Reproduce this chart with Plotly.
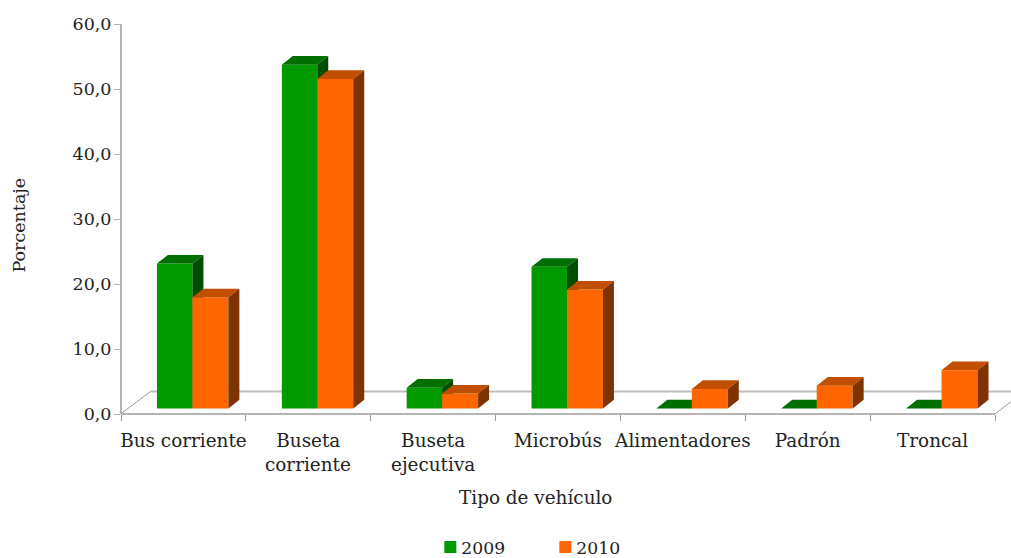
import plotly.graph_objects as go

categories = ["Bus corriente", "Buseta", "Buseta", "Microbús", "Alimentadores", "Padrón", "Troncal"]
second_lines = {1: "corriente", 2: "ejecutiva"}
values_2009 = [22.3, 52.9, 3.2, 21.8, 0.0, 0.0, 0.0]
values_2010 = [17.1, 50.7, 2.3, 18.3, 3.0, 3.5, 5.9]
y_ticks = [0, 10, 20, 30, 40, 50, 60]

FONT = "DejaVu Serif"
FS = 18.4
FS_Y = 17.5
FS_LEG = 17.2
TXT = "#222222"
BASE = 0.85
DX = 0.088
DY = 1.33
xs = list(range(len(categories)))

series = [
    dict(name="2009", vals=values_2009, left=-0.212, right=0.072, front="#009900", top="#006f00", side="#004d00", z=0),
    dict(name="2010", vals=values_2010, left=0.072, right=0.36, front="#ff6600", top="#c24e00", side="#7f3300", z=1),
]

fig = go.Figure()
for s in series:
    width = s["right"] - s["left"]
    fig.add_trace(go.Bar(x=xs, y=s["vals"], base=BASE, width=width, offset=s["left"], name=s["name"],
                         marker=dict(color=s["front"], line=dict(width=0)), zorder=s["z"],
                         hoverinfo="y"))
    tx, ty, sx, sy = [], [], [], []
    for c, v in zip(xs, s["vals"]):
        l, r, b, t = c + s["left"], c + s["right"], BASE, BASE + v
        tx += [l, l + DX, r + DX, r, l, None]
        ty += [t, t + DY, t + DY, t, t, None]
        if v > 0:
            sx += [r, r + DX, r + DX, r, r, None]
            sy += [b, b + DY, t + DY, t, b, None]
    fig.add_trace(go.Scatter(x=tx, y=ty, mode="none", fill="toself", fillcolor=s["top"], showlegend=False,
                             hoverinfo="skip", zorder=s["z"], cliponaxis=False))
    fig.add_trace(go.Scatter(x=sx, y=sy, mode="none", fill="toself", fillcolor=s["side"], showlegend=False,
                             hoverinfo="skip", zorder=s["z"], cliponaxis=False))

L, R, T, B = 120.5, 995.0, 23.5, 414.5
W, H = 1011, 558
def px(x): return (x - L) / (R - L)
def py(y): return (B - y) / (B - T)

floor = "#999999"
wall = "#bdbdbd"
axis_col = "#b3b3b3"
shapes = [
    dict(type="line", xref="paper", yref="paper", x0=px(120), y0=py(414.5), x1=px(150), y1=py(392), line=dict(color=floor, width=1), layer="below"),
    dict(type="line", xref="paper", yref="paper", x0=px(150), y0=py(392), x1=px(1011), y1=py(392), line=dict(color=wall, width=2), layer="below"),
    dict(type="line", xref="paper", yref="paper", x0=px(995), y0=py(414.5), x1=px(1011), y1=py(402), line=dict(color=floor, width=1), layer="below"),
    dict(type="line", xref="paper", yref="paper", x0=0, y0=0, x1=0, y1=1, line=dict(color=axis_col, width=2), layer="above"),
    dict(type="line", xref="paper", yref="paper", x0=0, y0=0, x1=1, y1=0, line=dict(color=axis_col, width=2), layer="above"),
]

annotations = [
    dict(text="Porcentaje", xref="paper", yref="paper", x=px(18), y=py(225), showarrow=False, textangle=-90,
         font=dict(family=FONT, size=FS_Y, color=TXT), xanchor="center", yanchor="middle"),
    dict(text="Tipo de vehículo", xref="paper", yref="paper", x=px(535), y=py(498), showarrow=False,
         font=dict(family=FONT, size=FS, color=TXT), xanchor="center", yanchor="middle"),
]
for i, t in second_lines.items():
    annotations.append(dict(text=t, xref="x", yref="paper", x=i, y=py(465), showarrow=False,
                            font=dict(family=FONT, size=FS, color=TXT), xanchor="center", yanchor="middle"))

fig.update_layout(
    width=W, height=H,
    margin=dict(l=L, r=W - R, t=T, b=H - B, pad=0, autoexpand=False),
    paper_bgcolor="white", plot_bgcolor="white",
    barmode="overlay",
    separators=",.",
    showlegend=True,
    legend=dict(orientation="h", x=px(421), y=py(530), xanchor="left", yanchor="top", entrywidth=70, entrywidthmode="pixels",
                font=dict(family=FONT, size=FS_LEG, color=TXT), bgcolor="rgba(0,0,0,0)", itemclick=False, itemdoubleclick=False),
    shapes=shapes,
    annotations=annotations,
    font=dict(family=FONT, color=TXT),
    xaxis=dict(range=[-0.5, 6.5], tickmode="array", tickvals=xs, ticktext=categories, ticks="", showgrid=False, zeroline=False,
               showline=False, automargin=False,
               tickfont=dict(family=FONT, size=FS, color=TXT), ticklabelstandoff=14,
               minor=dict(tickmode="array", tickvals=[-0.5 + i for i in range(8)], ticks="outside", ticklen=6, tickcolor="#999999", tickwidth=1, showgrid=False)),
    yaxis=dict(range=[0, 60], tickmode="array", tickvals=y_ticks, tickformat=".1f", ticks="outside", ticklen=6, tickcolor="#b3b3b3", tickwidth=1,
               showgrid=False, zeroline=False, showline=False, automargin=False,
               ticklabelstandoff=-1,
               tickfont=dict(family=FONT, size=FS_Y, color=TXT)),
)

post = """
document.body.style.margin='0';
document.querySelectorAll('.legendsymbols').forEach(function(e){e.setAttribute('transform','translate(9,0)');});
"""
fig.write_html("out.html", post_script=post, config={"displayModeBar": False})
